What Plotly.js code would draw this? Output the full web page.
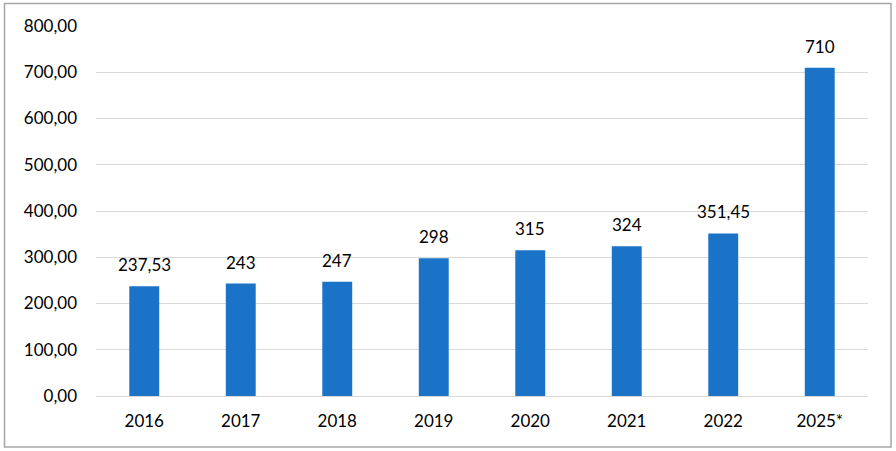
<!DOCTYPE html>
<html><head><meta charset="utf-8">
<script src="https://cdn.plot.ly/plotly-3.0.1.min.js"></script>
<style>html,body{margin:0;padding:0;background:#fff;}#c{width:896px;height:451px;}</style>
</head><body><div id="c"></div>
<script>
const categories = ["2016","2017","2018","2019","2020","2021","2022","2025*"];
const values = [237.53, 243, 247, 298, 315, 324, 351.45, 710];
const labels = values.map(v => String(v).replace('.', ','));
const yTicks = [0,100,200,300,400,500,600,700,800];

const mkFont = () => ({family: "Lato, 'Noto Sans', sans-serif", size: 17, color: "#000"});
const L=96, R=28, T=26, B=55, W=896, H=451;
const pw = W-L-R, ph = H-T-B;
const px = x => (x-L)/pw, py = y => (H-B-y)/ph;

const annotations = categories.map((c, i) => ({
  x: i, y: values[i], xref: 'x', yref: 'y', text: labels[i], showarrow: false,
  yanchor: 'bottom', yshift: 9, font: mkFont()
}));

Plotly.newPlot('c', [{
  type: 'bar', x: categories, y: values,
  marker: {color: '#1b73c8'}, hoverinfo: 'none'
}], {
  width: W, height: H, margin: {l: L, r: R, t: T, b: B},
  paper_bgcolor: '#fff', plot_bgcolor: '#fff',
  separators: ', ', bargap: 0.69, showlegend: false, font: mkFont(),
  annotations: annotations,
  xaxis: {type: 'category', range: [-0.5, categories.length - 0.5], tickfont: mkFont(), showgrid: false, zeroline: false, showline: false, ticks: '', ticklabelstandoff: 13},
  yaxis: {range: [0, 800], tickvals: yTicks, tickformat: '.2f', tickfont: mkFont(),
          gridcolor: '#d9d9d9', gridwidth: 1, zeroline: true, zerolinecolor: '#d9d9d9', zerolinewidth: 1,
          showline: false, ticks: '', ticklabelstandoff: 18},
  shapes: [{type: 'rect', xref: 'paper', yref: 'paper', x0: px(4.5), x1: px(891), y0: py(447), y1: py(3.5),
            line: {color: '#a6a6a6', width: 1.5}, fillcolor: 'rgba(0,0,0,0)', layer: 'below'}]
}, {staticPlot: true});
</script></body></html>
